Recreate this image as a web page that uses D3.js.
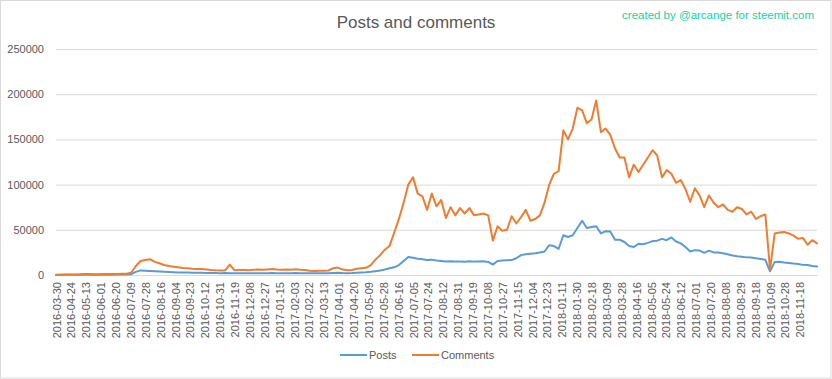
<!DOCTYPE html>
<html>
<head>
<meta charset="utf-8">
<script src="https://cdn.jsdelivr.net/npm/d3@7"></script>
<style>
  html, body { margin: 0; padding: 0; background: #fff; }
  svg { display: block; }
  text { font-family: "Liberation Sans", "Open Sans", sans-serif; }
</style>
</head>
<body>
<svg id="chart" width="832" height="379"></svg>
<script>
// ---- data ----
const chartTitle = "Posts and comments";
const watermark = "created by @arcange for steemit.com";
const seriesNames = ["Posts", "Comments"];

// daily categories: 973 days, tick label every 19 categories
const N_CATEGORIES = 973;
const TICK_EVERY = 19;
const SAMPLE_STEP = 6; // values below are read every 6th category

const tickLabels = [
  "2016-03-30","2016-04-24","2016-05-13","2016-06-01","2016-06-20","2016-07-09","2016-07-28",
  "2016-08-16","2016-09-04","2016-09-23","2016-10-12","2016-10-31","2016-11-19","2016-12-08",
  "2016-12-27","2017-01-15","2017-02-03","2017-02-22","2017-03-13","2017-04-01","2017-04-20",
  "2017-05-09","2017-05-28","2017-06-16","2017-07-05","2017-07-24","2017-08-12","2017-08-31",
  "2017-09-19","2017-10-08","2017-10-27","2017-11-15","2017-12-04","2017-12-23","2018-01-11",
  "2018-01-30","2018-02-18","2018-03-09","2018-03-28","2018-04-16","2018-05-05","2018-05-24",
  "2018-06-12","2018-07-01","2018-07-20","2018-08-08","2018-08-29","2018-09-18","2018-10-09",
  "2018-10-28","2018-11-18"
];

const yTicks = [0, 50000, 100000, 150000, 200000, 250000];

const posts = [
  100,150,200,200,250,300,400,350,350,350,
  400,400,400,450,500,600,900,3500,5100,4800,
  4500,4200,3900,3600,3300,3100,2900,2800,2700,2600,
  2500,2400,2300,2200,2100,2000,2100,2000,2000,1900,
  1900,1800,1900,2000,1900,2000,2100,2000,1900,2000,
  2000,2100,2000,1900,1800,1800,1900,1900,2000,2200,
  2400,2100,2000,2100,2400,2700,3000,3500,4200,5000,
  6000,7500,8500,11000,15500,20000,19000,18000,17500,16500,
  17000,16000,15500,15000,15200,14800,15000,14600,15300,14800,
  15000,15200,14500,11500,15500,16000,16200,16500,18500,22000,
  23000,23500,24000,24800,26000,33000,32000,29000,44000,42000,
  44000,52000,60000,52000,53000,54000,46000,48500,48000,39000,
  39000,36500,32000,31000,34500,34000,35500,37500,38000,40000,
  38500,41500,37000,35000,31000,26000,27500,27000,24500,27000,
  25000,24800,24000,23000,21500,20800,20300,19500,19300,18500,
  17800,16800,4000,14500,14700,13800,13200,12600,12200,11200,
  11000,10000,9300
];

const comments = [
  300,400,500,500,600,800,1200,1000,900,900,
  1000,1000,1100,1200,1300,1500,2500,10000,15500,16500,
  17500,14500,13000,11000,10000,9200,8500,7800,7500,7000,
  6700,6500,6200,5600,5200,5000,5000,11500,5200,5500,
  5600,5300,5800,6000,5700,6200,6600,6000,5800,6200,
  5900,6300,5800,5500,4800,4500,4600,4800,5000,7500,
  8200,6000,5200,5500,7000,7500,8000,11000,17000,22000,
  28000,32000,47000,62000,80000,100000,108000,90000,87000,72000,
  90000,76000,83000,63000,75000,66000,74000,68000,74000,66000,
  67000,68000,66000,38000,54000,49000,50000,65000,57000,64000,
  72000,60000,62000,66000,80000,100000,112000,115000,160000,150000,
  162000,185000,182000,168000,172000,193000,158000,162000,155000,140000,
  130000,130000,108000,122000,114000,122000,130000,138000,132000,108000,
  116000,112000,102000,105000,95000,81000,96000,88000,75000,88000,
  80000,75000,78000,72000,70000,75000,73000,67000,70000,62000,
  65000,67000,6000,46000,47000,47500,46000,43500,40000,41000,
  33500,38500,35000
];

// ---- drawing ----
const W = 832, H = 379;
const plot = { left: 56, right: 817, top: 49, bottom: 275 };
const colors = { Posts: "#5B9BD5", Comments: "#ED7D31" };
const textColor = "#595959";
const gridColor = "#d9d9d9";

const svg = d3.select("#chart");

// outer border
svg.append("rect").attr("x", 0.5).attr("y", 0.5).attr("width", W - 1.5).attr("height", H - 1.5)
  .attr("fill", "#fff").attr("stroke", gridColor).attr("stroke-width", 1);

const x = d3.scaleLinear().domain([0, N_CATEGORIES - 1]).range([plot.left, plot.right]);
const y = d3.scaleLinear().domain([0, 250000]).range([plot.bottom, plot.top]);

// title
svg.append("text").attr("x", 416).attr("y", 28).attr("text-anchor", "middle")
  .attr("font-size", 17).attr("fill", textColor).text(chartTitle);

// watermark
svg.append("text").attr("x", 814).attr("y", 19).attr("text-anchor", "end")
  .attr("font-size", 11.5).attr("fill", "#19d1a6").text(watermark);

// y axis (gridlines + labels)
const yAxis = d3.axisLeft(y).tickValues(yTicks).tickSize(-(plot.right - plot.left)).tickPadding(12)
  .tickFormat(d3.format("d"));
const gy = svg.append("g").attr("transform", `translate(${plot.left},0)`).call(yAxis);
gy.select(".domain").remove();
gy.selectAll(".tick line").attr("stroke", gridColor).attr("stroke-width", 1);
gy.selectAll(".tick text").attr("fill", textColor).attr("font-size", 11)
  .attr("font-family", "'Liberation Sans', sans-serif");

// x axis with rotated category labels
const tickIdx = tickLabels.map((d, i) => i * TICK_EVERY);
const xAxis = d3.axisBottom(x).tickValues(tickIdx).tickSize(0).tickPadding(0)
  .tickFormat((d, i) => tickLabels[i]);
const gx = svg.append("g").attr("transform", `translate(0,${plot.bottom})`).call(xAxis);
gx.select(".domain").attr("stroke", gridColor);
gx.selectAll(".tick text")
  .attr("fill", textColor).attr("font-size", 11)
  .attr("font-family", "'Liberation Sans', sans-serif")
  .attr("text-anchor", "end")
  .attr("dy", null).attr("y", 0)
  .attr("transform", "translate(0,7) rotate(-90)")
  .attr("dominant-baseline", "central");

// lines
function seriesPoints(values) {
  return values.map((v, k) => ({ i: k * SAMPLE_STEP, v }));
}
const line = d3.line().x(d => x(d.i)).y(d => y(d.v));

[["Posts", posts], ["Comments", comments]].forEach(([name, vals]) => {
  svg.append("path").datum(seriesPoints(vals))
    .attr("fill", "none").attr("stroke", colors[name]).attr("stroke-width", 2)
    .attr("stroke-linejoin", "round").attr("stroke-linecap", "round")
    .attr("d", line);
});

// legend
const legendItems = [
  { name: "Posts", x: 340 },
  { name: "Comments", x: 412 }
];
const lg = svg.append("g");
legendItems.forEach(it => {
  lg.append("line").attr("x1", it.x).attr("x2", it.x + 27).attr("y1", 355).attr("y2", 355)
    .attr("stroke", colors[it.name]).attr("stroke-width", 2);
  lg.append("text").attr("x", it.x + 29).attr("y", 359).attr("font-size", 11)
    .attr("fill", textColor).text(it.name);
});
</script>
</body>
</html>
